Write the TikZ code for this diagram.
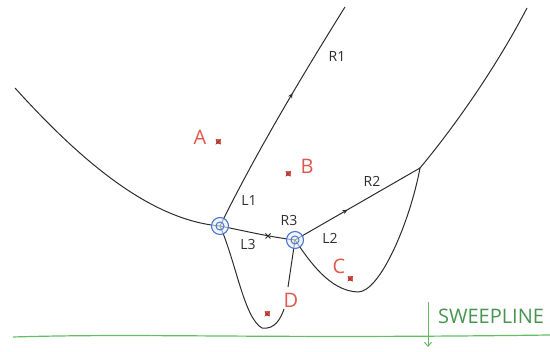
\documentclass[tikz,border=0pt]{standalone}
\usepackage{fontspec}
\setmainfont{Open Sans}
\usetikzlibrary{arrows.meta,decorations.markings,shapes.misc}
\definecolor{inkc}{RGB}{45,45,45}
\definecolor{redc}{RGB}{222,88,78}
\definecolor{bluec}{RGB}{70,120,210}
\definecolor{greenc}{RGB}{100,190,105}
\definecolor{greent}{RGB}{70,150,80}
\begin{document}
\begin{tikzpicture}[x=1pt,y=-1pt,
  edge/.style={draw=inkc,line width=1pt},
  lbl/.style={font=\fontsize{14}{14}\selectfont,text=inkc,inner sep=0},
  sitelbl/.style={font=\fontsize{20}{20}\selectfont,text=redc,inner sep=0},
  site/.style={rectangle,fill=redc,minimum size=5pt,inner sep=0,
    path picture={\draw[redc!60!black,line width=0.5pt]
      (path picture bounding box.south west) -- (path picture bounding box.north east)
      (path picture bounding box.north west) -- (path picture bounding box.south east);}},
  vtx/.style={circle,draw=bluec,fill=bluec!12,fill opacity=0.6,draw opacity=1,line width=1.1pt,minimum size=17pt,inner sep=0,
    path picture={\draw[bluec,line width=1pt] (path picture bounding box.center) circle (4pt);}},
  xmark/.style={draw=inkc,cross out,line width=1pt,minimum size=4pt,inner sep=0},
  midarrow/.style={postaction={decorate},decoration={markings,
    mark=at position #1 with {\arrow{Stealth[length=5pt,width=4.5pt]}}}}
]
\useasboundingbox (0,0) rectangle (550,352);

% vertices and free ends
\coordinate (v1) at (220,226);
\coordinate (v2) at (295,240);
\coordinate (v3) at (420,168);
\coordinate (p0) at (15,88);
\coordinate (r1end) at (345,7);
\coordinate (r2end) at (527,8);
\coordinate (dtop) at (288,287);
\coordinate (dbot) at (262,328);
\coordinate (dend) at (284,309);
\coordinate (cbot) at (358,292);

% beach line and edges
\draw[edge] (p0) .. controls (80,160) and (150,220) .. (v1);
\draw[edge,midarrow=0.6] (v1) .. controls (250,165) and (290,95) .. (r1end);
\draw[edge] (v1) .. controls (245,231) and (270,237) .. (v2);
\draw[edge,midarrow=0.42] (v2) -- (v3);
\draw[edge] (v3) .. controls (460,120) and (500,60) .. (r2end);
\draw[edge] (v2) .. controls (310,262) and (330,291) .. (cbot)
  .. controls (380,292) and (410,222) .. (v3);
\draw[edge] (v2) -- (dtop);
\draw[edge] (v1) .. controls (236,262) and (244,318) .. (dbot)
  .. controls (275,330) and (281,318) .. (dend);

\node[xmark] (xm) at (268,236) {};

% circle events
\node[vtx] (c1) at (v1) {};
\node[vtx] (c2) at (v2) {};

% edge labels
\node[lbl] (lr1) at (337,57) {R1};
\node[lbl] (ll1) at (249,201) {L1};
\node[lbl] (lr3) at (289,221) {R3};
\node[lbl] (ll3) at (248,245) {L3};
\node[lbl] (ll2) at (330,238) {L2};
\node[lbl] (lr2) at (372,181) {R2};

% sites
\node[sitelbl] (la) at (200,137) {A};
\node[site] (sa) at (218,142) {};
\node[sitelbl] (lb) at (307,166) {B};
\node[site] (sb) at (288,174) {};
\node[sitelbl] (lc) at (339,266) {C};
\node[site] (sc) at (350,279) {};
\node[sitelbl] (ld) at (291,300) {D};
\node[site] (sd) at (267,314) {};

% sweep line
\coordinate (sl1) at (13,337);
\coordinate (sl2) at (550,335);
\draw[greenc,line width=1.2pt] (sl1) .. controls (150,333) and (250,339) .. (sl2);
\coordinate (ar1) at (428,302);
\coordinate (ar2) at (428,347);
\draw[greenc,line width=1pt,-{Straight Barb[length=4pt,width=7pt]}] (ar1) -- (ar2);
\node[font=\fontsize{20}{20}\selectfont,text=greent,inner sep=0] (sw) at (491,316) {SWEEPLINE};
\end{tikzpicture}
\end{document}
